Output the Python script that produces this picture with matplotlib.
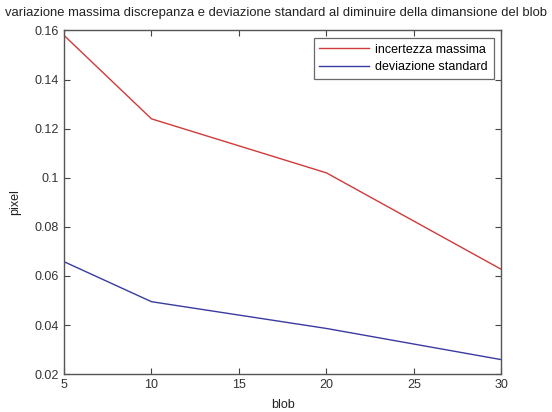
import matplotlib
matplotlib.use("Agg")
import matplotlib.pyplot as plt

# blob size vs. max uncertainty / standard deviation (pixel)
blob = [5, 10, 20, 30]
incertezza_massima = [0.158, 0.124, 0.102, 0.0627]
deviazione_standard = [0.0658, 0.0495, 0.0386, 0.0259]

xticks = [5, 10, 15, 20, 25, 30]
yticks = [0.02, 0.04, 0.06, 0.08, 0.1, 0.12, 0.14, 0.16]
ytick_labels = ["0.02", "0.04", "0.06", "0.08", "0.1", "0.12", "0.14", "0.16"]

plt.rcParams["font.family"] = ["Liberation Sans", "DejaVu Sans"]
plt.rcParams["font.size"] = 9

fig = plt.figure(figsize=(5.52, 4.12), dpi=100)
ax = fig.add_axes([0.116, 0.092, 0.792, 0.834])

ax.plot(blob, incertezza_massima, color="#d03a3a", lw=1.0, label="incertezza massima")
ax.plot(blob, deviazione_standard, color="#3a3aa0", lw=1.0, label="deviazione standard")

ax.set_xlim(5, 30)
ax.set_ylim(0.02, 0.16)
ax.set_xticks(xticks)
ax.set_yticks(yticks)
ax.set_yticklabels(ytick_labels)
ax.tick_params(direction="in", top=True, right=True, length=4, width=0.8,
               colors="#444444", labelcolor="#333333", labelsize=9)
for s in ax.spines.values():
    s.set_color("#555555")
    s.set_linewidth(1.0)

ax.set_xlabel("blob", fontsize=9, labelpad=6, color="#222222")
ax.set_ylabel("pixel", fontsize=9, labelpad=10, color="#222222")
# title centred on the figure rather than the axes, it is wider than the plot
fig.text(0.5, 0.968, "variazione massima discrepanza e deviazione standard al diminuire della dimansione del blob",
         ha="center", va="center", fontsize=9.4, color="#222222")

leg = ax.legend(loc="upper right", fontsize=9, frameon=True, fancybox=False,
                edgecolor="#444444", borderpad=0.45, handlelength=4.0,
                handletextpad=0.5, labelspacing=0.45, borderaxespad=0.6)
leg.get_frame().set_linewidth(0.9)

fig.savefig("out.png", dpi=100)
